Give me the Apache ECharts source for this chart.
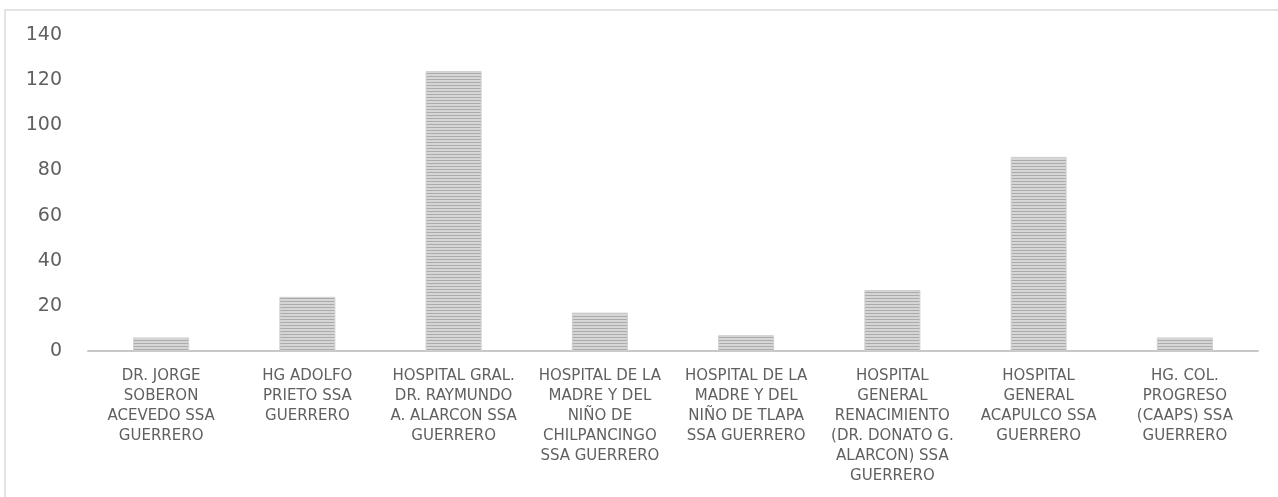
<!DOCTYPE html>
<html>
<head>
<meta charset="utf-8">
<script src="https://cdn.jsdelivr.net/npm/echarts@6/dist/echarts.min.js"></script>
<style>
  html, body { margin: 0; padding: 0; background: #fff; }
  #chart { width: 1278px; height: 497px; }
</style>
</head>
<body>
<div id="chart"></div>
<script>
// hospitales (etiquetas con saltos de linea como en la imagen)
var categories = [
    'DR. JORGE\nSOBERON\nACEVEDO SSA\nGUERRERO',
    'HG ADOLFO\nPRIETO SSA\nGUERRERO',
    'HOSPITAL GRAL.\nDR. RAYMUNDO\nA. ALARCON SSA\nGUERRERO',
    'HOSPITAL DE LA\nMADRE Y DEL\nNIÑO DE\nCHILPANCINGO\nSSA GUERRERO',
    'HOSPITAL DE LA\nMADRE Y DEL\nNIÑO DE TLAPA\nSSA GUERRERO',
    'HOSPITAL\nGENERAL\nRENACIMIENTO\n(DR. DONATO G.\nALARCON) SSA\nGUERRERO',
    'HOSPITAL\nGENERAL\nACAPULCO SSA\nGUERRERO',
    'HG. COL.\nPROGRESO\n(CAAPS) SSA\nGUERRERO'
];
var values = [6, 24, 124, 17, 7, 27, 86, 6];
var yTicks = [0, 20, 40, 60, 80, 100, 120, 140];

function stripes() {
    // rayado horizontal de las barras
    var c = document.createElement('canvas');
    c.width = 4;
    c.height = 3;
    var ctx = c.getContext('2d');
    ctx.fillStyle = '#d6d6d6';
    ctx.fillRect(0, 0, 4, 3);
    ctx.fillStyle = '#ababab';
    ctx.fillRect(0, 1, 4, 1);
    return c;
}

function bars() {
    var dom = document.getElementById('chart');
    var myChart = echarts.init(dom);
    var option = {
        animation: false,
        backgroundColor: '#ffffff',
        graphic: [{
            type: 'rect',
            shape: { x: 5, y: 10, width: 1400, height: 600 },
            style: { fill: 'none', stroke: '#dcdcdc', lineWidth: 1.5 },
            silent: true
        }],
        grid: {
            left: 88,
            right: 20,
            top: 35,
            bottom: 146
        },
        xAxis: {
            type: 'category',
            data: categories,
            axisLine: { lineStyle: { color: '#c8c8c8', width: 2 } },
            axisTick: { show: false },
            axisLabel: {
                interval: 0,
                color: '#606060',
                fontFamily: 'DejaVu Sans',
                fontSize: 15,
                lineHeight: 20,
                margin: 15
            }
        },
        yAxis: {
            type: 'value',
            min: yTicks[0],
            max: yTicks[yTicks.length - 1],
            interval: 20,
            axisLine: { show: false },
            axisTick: { show: false },
            splitLine: { show: false },
            axisLabel: {
                color: '#606060',
                fontFamily: 'DejaVu Sans',
                fontSize: 19,
                margin: 26
            }
        },
        series: [{
            type: 'bar',
            barWidth: 56,
            data: values,
            itemStyle: {
                color: { image: stripes(), repeat: 'repeat' },
                borderColor: '#cfcfcf',
                borderWidth: 1
            }
        }]
    };
    myChart.setOption(option, true);
    window.onresize = myChart.resize;
}

bars();
</script>
</body>
</html>
